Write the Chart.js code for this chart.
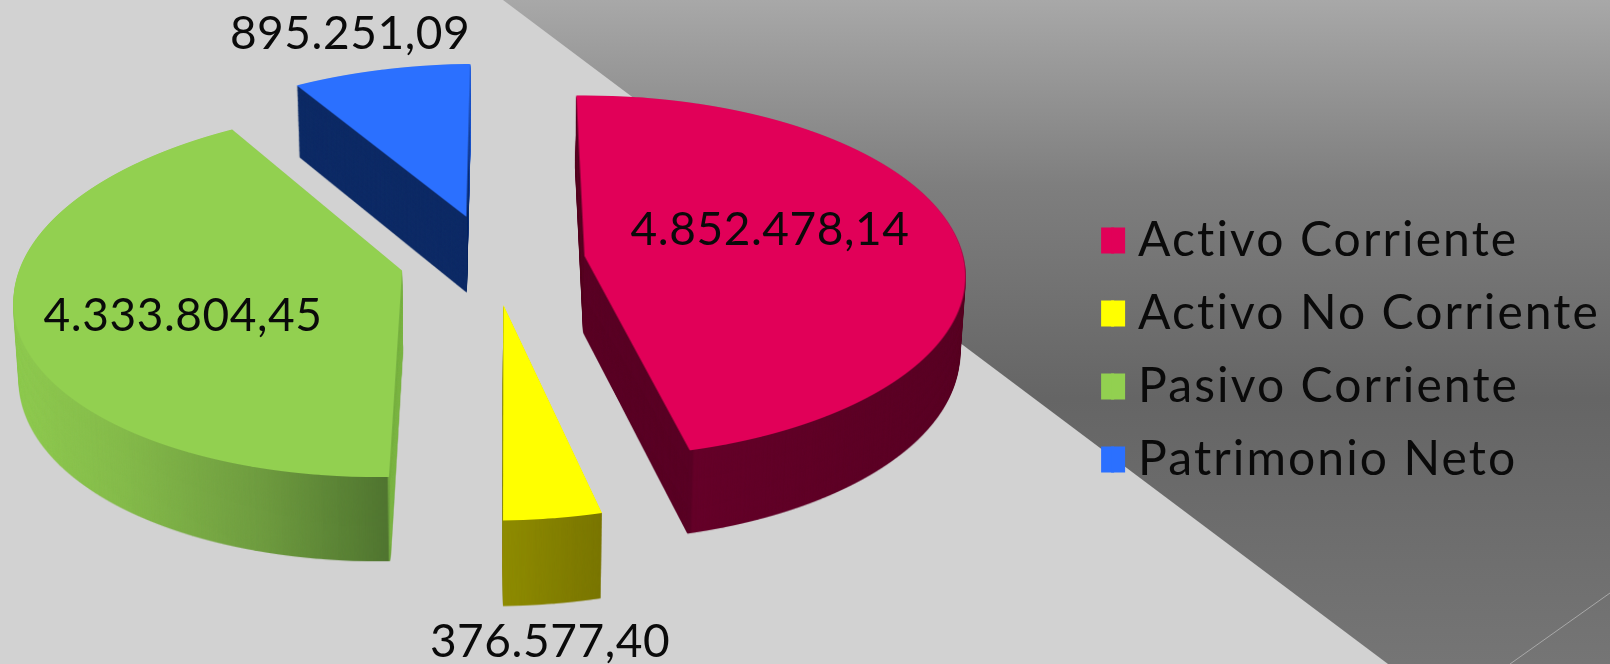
<!DOCTYPE html>
<html><head><meta charset="utf-8">
<style>html,body{margin:0;padding:0;background:#d2d2d2;overflow:hidden}canvas{display:block}</style>
<script src="https://cdn.jsdelivr.net/npm/chart.js@4"></script>
</head><body><canvas id="c" width="1610" height="664"></canvas>
<script>
const categories = ['Activo Corriente','Activo No Corriente','Pasivo Corriente','Patrimonio Neto'];
const values = [4852478.14, 376577.40, 4333804.45, 895251.09];
const colors = ['#e10058','#ffff00','#92d050','#2b70ff'];
const explode = [0.247,0.245,0.238,0.27];
const nudge = [[1.5,0],[3,-2],[0,-4],[2.5,0]];
const labelPos = [[770,230],[550,642],[183,316],[350,34]];
const wallStops = [
  [[585,'#5a0025'],[691,'#5a0025'],[693,'#650029'],[965,'#590024']],
  [[503,'#8e8b00'],[601,'#797500']],
  [[15,'#8fca50'],[120,'#85bb4b'],[260,'#6f9c40'],[387,'#507530'],[389,'#7db646'],[403,'#7db646']],
  [[297,'#0e2b66'],[465,'#0e2b66'],[468,'#2560e0'],[475,'#2560e0']]
];
const W=1610,H=664;
const P={Xc:490,Yc:262,A:380,B:180,k:0.114,s:0.06};
const FONT='Lato';

function fmt(v){return v.toLocaleString('de-DE',{minimumFractionDigits:2,maximumFractionDigits:2});}

function renderSlice(arc,i){
  const off=document.createElement('canvas');off.width=W;off.height=H;
  const c=off.getContext('2d');
  const R=arc.outerRadius,mid=(arc.startAngle+arc.endAngle)/2;
  const eu=Math.cos(mid)*explode[i],ev=Math.sin(mid)*explode[i];
  for(let Y=0;Y<H;Y++){
    const dy=Y+0.5-P.Yc, den=P.B+P.k*dy;
    if(den<=0)continue;
    const v=dy/den,w=1-P.k*v;
    c.save();
    c.beginPath();c.rect(0,Y,W,1);c.clip();
    const ax=P.A/w/R, dd=P.B/(w*w)/R;
    c.setTransform(ax,0,0,dd,
      P.Xc+(P.A/w)*(eu-arc.x/R)-P.s*dy,
      (Y+0.5)+(P.B/(w*w))*(ev-arc.y/R-v));
    arc.draw(c);
    c.restore();
  }
  return off;
}
function tint(src,stops){
  const t=document.createElement('canvas');t.width=W;t.height=H;
  const c=t.getContext('2d');
  c.drawImage(src,0,0);
  c.globalCompositeOperation='source-in';
  const x0=stops[0][0],x1=stops[stops.length-1][0];
  const g=c.createLinearGradient(x0,0,x1,0);
  stops.forEach(s=>g.addColorStop((s[0]-x0)/(x1-x0),s[1]));
  c.fillStyle=g;c.fillRect(0,0,W,H);
  return t;
}
const pie3d={
  id:'pie3d',
  beforeLayout(chart){chart.ctx.letterSpacing='2.1px';},
  beforeDraw(chart){
    const c=chart.ctx;
    c.save();
    c.fillStyle='#d2d2d2';c.fillRect(0,0,W,H);
    const g=c.createLinearGradient(0,0,0,H);
    g.addColorStop(0,'#a8a8a8');g.addColorStop(0.28,'#7e7e7e');
    g.addColorStop(0.6,'#656565');g.addColorStop(0.8,'#6d6d6d');g.addColorStop(1,'#757575');
    c.fillStyle=g;
    c.beginPath();c.moveTo(503,0);c.lineTo(W,0);c.lineTo(W,H);c.lineTo(1388,H);c.closePath();c.fill();
    c.strokeStyle='#a8a8a8';c.lineWidth=1;
    c.beginPath();c.moveTo(1510,H);c.lineTo(W,593);c.stroke();
    c.restore();
  },
  beforeDatasetsDraw(chart){
    const c=chart.ctx, arcs=chart.getDatasetMeta(0).data;
    [3,2,0,1].forEach(i=>{
      const top=renderSlice(arcs[i],i), wall=tint(top,wallStops[i]);
      const N=86,nx=nudge[i][0],ny=nudge[i][1];
      for(let n=N;n>=1;n--){
        const t=n/N,f=1-0.012*t;
        c.drawImage(wall,nx+P.Xc*(1-f),ny+t*68.84,W*f,H*(1+0.032*t));
      }
      c.drawImage(top,nx,ny);
    });
    return false;
  },
  afterDraw(chart){
    const c=chart.ctx;
    c.save();
    c.letterSpacing='0.55px';
    c.fillStyle='#0a0a0a';c.font='46px '+FONT;c.textAlign='center';c.textBaseline='middle';
    values.forEach((v,i)=>c.fillText(fmt(v),labelPos[i][0],labelPos[i][1]));
    // widen the legend markers to the reference's proportions
    const hb=chart.legend.legendHitBoxes;
    hb.forEach((b,i)=>{c.fillStyle=colors[i];c.fillRect(b.left+10,b.top+11,14,26);});
    c.restore();
  }
};
new Chart(document.getElementById('c'),{
  type:'pie',
  data:{labels:categories,datasets:[{data:values,backgroundColor:colors,borderWidth:0}]},
  plugins:[pie3d],
  options:{
    responsive:false,animation:false,rotation:-1.4,radius:300,
    layout:{padding:{top:36,right:0}},
    plugins:{
      tooltip:{enabled:false},
      legend:{position:'right',
        labels:{color:'#0a0a0a',font:{family:FONT,size:48},boxWidth:13,boxHeight:26,padding:25}}
    }
  }
});
</script></body></html>
